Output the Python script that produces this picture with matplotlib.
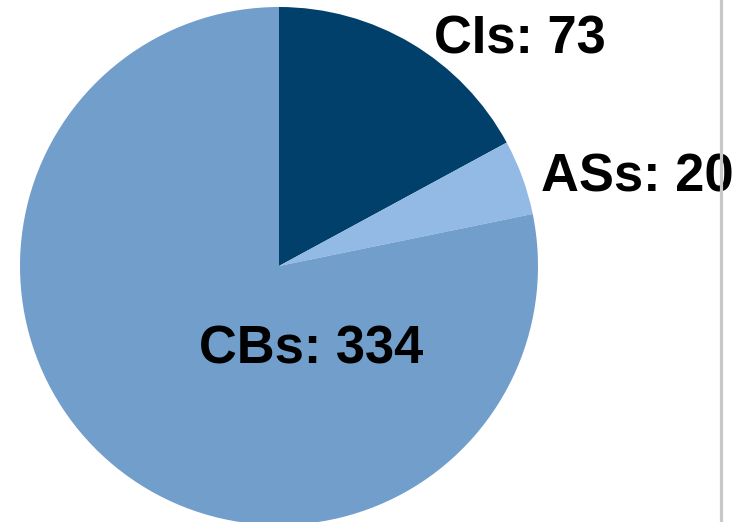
import matplotlib
matplotlib.use("Agg")
import matplotlib.pyplot as plt

# data
categories = ["CIs", "ASs", "CBs"]
counts = [73, 20, 334]
colors = ["#01406A", "#92BAE5", "#729ECB"]

# label centres in pixel coords (y up)
label_pos = [(520, 482), (637, 344), (311, 172)]

W, H = 751, 522
fig = plt.figure(figsize=(W / 100, H / 100), dpi=100)
ax = fig.add_axes([0, 0, 1, 1])

ax.pie(counts, colors=colors, startangle=90, counterclock=False,
       center=(279, 256), radius=259, wedgeprops=dict(linewidth=0))

for cat, n, (x, y) in zip(categories, counts, label_pos):
    ax.text(x, y, f"{cat}: {n}", ha="center", va="center",
            fontsize=37.8, fontweight="bold", family="Liberation Sans",
            color="black", zorder=5)

# grey divider on the right (sits over the ASs label)
ax.plot([721, 721], [2, H], color="#C8C9CB", lw=2.3, zorder=6)

ax.set_xlim(0, W)
ax.set_ylim(0, H)
ax.set_aspect("equal")
ax.axis("off")

fig.savefig("out.png", dpi=100)
